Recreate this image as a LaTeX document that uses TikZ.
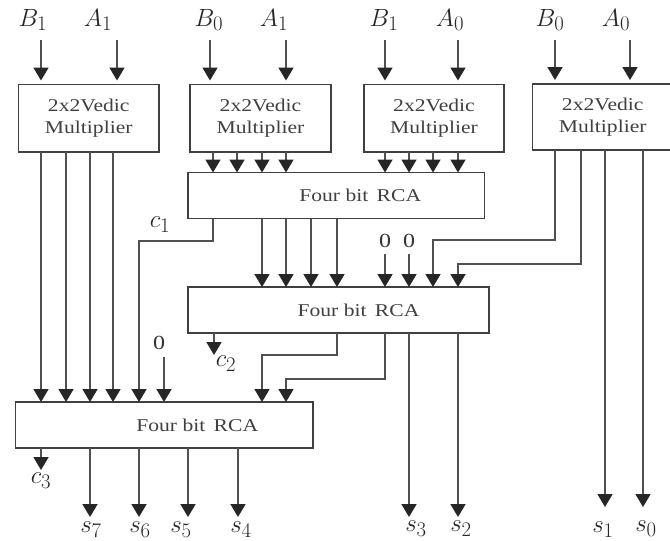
\documentclass[tikz,border=0pt]{standalone}
\usepackage{fontspec}
\usetikzlibrary{arrows.meta}
\newfontfamily\boxfont[FakeStretch=1.2]{Liberation Serif}
\definecolor{wiregray}{HTML}{505050}
\tikzset{
	wire/.style={
		draw=wiregray,
		line width=1.8pt,
		-{Triangle[width=15pt,length=13pt,color=black!85]}
	},
	blockbox/.style={
		draw=black!75,
		line width=1.6pt,
		fill=white,
		rectangle,
		outer sep=0pt,
		inner sep=0pt,
		align=center,
		text=black!75,
		font=\boxfont\fontsize{18}{22}\selectfont
	},
	multbox/.style={
		blockbox,
		minimum width=140.5pt,
		minimum height=67.5pt
	},
	rcabox/.style={
		blockbox,
		minimum height=46pt
	},
	biglabel/.style={
		inner sep=0pt,
		font=\Huge,
		text=black!85
	},
	zerolabel/.style={
		inner sep=0pt,
		font=\boxfont\fontsize{20}{24}\selectfont,
		text=black!80
	}
}

\begin{document}
\begin{tikzpicture}[x=1pt,y=-1pt]
	\useasboundingbox (0,0) rectangle (670,541);

	% multipliers
	\node[multbox] (multa) at (88.75,118.25) {2x2Vedic\\Multiplier};
	\node[multbox] (multb) at (260.5,118.25) {2x2Vedic\\Multiplier};
	\node[multbox] (multc) at (434,118.25) {2x2Vedic\\Multiplier};
	\node[multbox,minimum width=138.5pt,minimum height=66pt] (multd) at (601.75,117) {\hspace*{2pt}2x2Vedic\\\hspace*{2pt}Multiplier};

	% adders
	\node[rcabox,minimum width=296.5pt] (rcaa) at (336.25,195.5) {\hspace*{48pt}Four bit\, RCA};
	\node[rcabox,minimum width=301pt] (rcab) at (338.5,310) {\hspace*{40pt}Four bit\, RCA};
	\node[rcabox,minimum width=297.5pt] (rcac) at (164.25,425) {\hspace*{66pt}Four bit\, RCA};

	% inputs
	\node[biglabel] (lba) at (33,20) {$B_1$};
	\node[biglabel] (laa) at (98,20) {$A_1$};
	\node[biglabel] (lbb) at (209,20) {$B_0$};
	\node[biglabel] (lab) at (274,20) {$A_1$};
	\node[biglabel] (lbc) at (384,20) {$B_1$};
	\node[biglabel] (lac) at (450,20) {$A_0$};
	\node[biglabel] (lbd) at (550,20) {$B_0$};
	\node[biglabel] (lad) at (616,20) {$A_0$};
	\foreach \n/\x/\m in {ba/41/multa,aa/117/multa,bb/210/multb,ab/286/multb,bc/385/multc,ac/458/multc,bd/555/multd,ad/630/multd}{
		\coordinate (in\n) at (\x,40);
		\draw[wire,shorten >=4pt] (in\n) -- (in\n |- \m.north);
	}

	% multipliers to first adder
	\foreach \x in {213,237,262,286}
		\draw[wire] (\x,0 |- multb.south) -- (\x,0 |- rcaa.north);
	\foreach \x in {385,409,433,458}
		\draw[wire] (\x,0 |- multc.south) -- (\x,0 |- rcaa.north);

	% first multiplier to last adder
	\foreach \x in {41,66,90,113}
		\draw[wire] (\x,0 |- multa.south) -- (\x,0 |- rcac.north);

	% carry c1
	\draw[wire] (213,0 |- rcaa.south) |- (139,241) -- (139,0 |- rcac.north);
	\node[biglabel] (lca) at (160,225) {$c_1$};

	% first adder to second adder
	\foreach \x in {262,286,311,337}
		\draw[wire] (\x,0 |- rcaa.south) -- (\x,0 |- rcab.north);

	% zeros
	\node[zerolabel] (lza) at (385,241) {0};
	\node[zerolabel] (lzb) at (409,241) {0};
	\node[zerolabel] (lzc) at (159,343) {0};
	\coordinate (za) at (385,254);
	\coordinate (zb) at (409,254);
	\coordinate (zc) at (164,357);
	\draw[wire] (za) -- (za |- rcab.north);
	\draw[wire] (zb) -- (zb |- rcab.north);
	\draw[wire] (zc) -- (zc |- rcac.north);

	% last multiplier
	\draw[wire] (555,0 |- multd.south) |- (433,240) -- (433,0 |- rcab.north);
	\draw[wire] (581,0 |- multd.south) |- (458,264) -- (458,0 |- rcab.north);
	\coordinate (oa) at (605,507);
	\coordinate (ob) at (643,507);
	\draw[wire] (oa |- multd.south) -- (oa);
	\draw[wire] (ob |- multd.south) -- (ob);
	\node[biglabel] (lsb) at (603,530) {$s_1$};
	\node[biglabel] (lsa) at (646,529) {$s_0$};

	% second adder outputs
	\coordinate (cb) at (214,355);
	\draw[wire] (cb |- rcab.south) -- (cb);
	\node[biglabel] (lcb) at (226,364) {$c_2$};
	\draw[wire] (337,0 |- rcab.south) |- (262,355) -- (262,0 |- rcac.north);
	\draw[wire] (385,0 |- rcab.south) |- (286,379) -- (286,0 |- rcac.north);
	\coordinate (oc) at (409,517);
	\coordinate (od) at (458,517);
	\draw[wire] (oc |- rcab.south) -- (oc);
	\draw[wire] (od |- rcab.south) -- (od);
	\node[biglabel] (lsd) at (416,529) {$s_3$};
	\node[biglabel] (lsc) at (461,529) {$s_2$};

	% last adder outputs
	\coordinate (cc) at (41,470);
	\draw[wire] (cc |- rcac.south) -- (cc);
	\node[biglabel] (lcc) at (41,481) {$c_3$};
	\foreach \n/\x in {oe/90,of/139,og/188,oh/238}{
		\coordinate (\n) at (\x,517);
		\draw[wire] (\n |- rcac.south) -- (\n);
	}
	\node[biglabel] (lsh) at (91,530) {$s_7$};
	\node[biglabel] (lsg) at (140,530) {$s_6$};
	\node[biglabel] (lsf) at (181,530) {$s_5$};
	\node[biglabel] (lse) at (241,530) {$s_4$};

\end{tikzpicture}
\end{document}
